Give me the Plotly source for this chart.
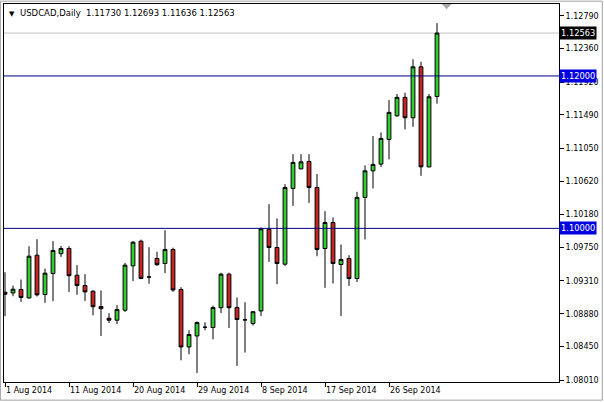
import pandas as pd
import plotly.graph_objects as go

## Data
# ======================================
# trading days incl. the Sunday bars of the broker, Saturdays left out
dagen = [d for d in pd.date_range('2014-08-01', '2014-10-03') if d.weekday() != 5]
datums = [d.strftime('%Y-%m-%d') for d in dagen]

open_ = [
    1.09162, 1.09153, 1.09198, 1.09087, 1.09648, 1.09132, 1.09408, 1.09668, 1.09736, 1.09385,
    1.09250, 1.09175, 1.08974, 1.08821, 1.08795, 1.08926, 1.09508, 1.09832, 1.09363, 1.09605,
    1.09539, 1.09723, 1.09198, 1.08444, 1.08588, 1.08703, 1.08699, 1.08959, 1.09399, 1.08961,
    1.08800, 1.08751, 1.08917, 1.09989, 1.09749, 1.09530, 1.10524, 1.10781, 1.10878, 1.10537,
    1.09736, 1.10077, 1.09526, 1.09605, 1.09342, 1.10406, 1.10755, 1.10843, 1.11167, 1.11477,
    1.11719, 1.11451, 1.12120, 1.10807, 1.11730,
]
high = [
    1.09425, 1.09248, 1.09329, 1.09766, 1.09858, 1.09473, 1.09832, 1.09769, 1.09766, 1.09517,
    1.09399, 1.09188, 1.09185, 1.08887, 1.08992, 1.09547, 1.09832, 1.09852, 1.09753, 1.09694,
    1.09976, 1.09746, 1.09228, 1.08663, 1.08777, 1.08768, 1.08988, 1.09418, 1.09418, 1.09093,
    1.09031, 1.08917, 1.10012, 1.10318, 1.10130, 1.10580, 1.10974, 1.10974, 1.10974, 1.10712,
    1.10226, 1.10143, 1.09789, 1.09648, 1.10479, 1.10826, 1.11211, 1.11259, 1.11683, 1.11762,
    1.11779, 1.12218, 1.12186, 1.11762, 1.12693,
]
low = [
    1.08847, 1.09110, 1.09035, 1.09080, 1.09106, 1.09022, 1.09044, 1.09626, 1.09166, 1.09129,
    1.09048, 1.08860, 1.08588, 1.08759, 1.08745, 1.08904, 1.09307, 1.09333, 1.09274, 1.09508,
    1.09412, 1.09166, 1.08269, 1.08348, 1.08103, 1.08663, 1.08545, 1.08890, 1.08693, 1.08195,
    1.08370, 1.08725, 1.08851, 1.09560, 1.09267, 1.09508, 1.10295, 1.10773, 1.10335, 1.09635,
    1.09219, 1.09276, 1.08851, 1.09245, 1.09297, 1.09854, 1.10524, 1.10807, 1.10905, 1.11464,
    1.11298, 1.11333, 1.10689, 1.10800, 1.11636,
]
close = [
    1.09136, 1.09202, 1.09093, 1.09635, 1.09127, 1.09412, 1.09710, 1.09736, 1.09379, 1.09250,
    1.09166, 1.08972, 1.08946, 1.08795, 1.08935, 1.09517, 1.09819, 1.09343, 1.09362, 1.09523,
    1.09723, 1.09192, 1.08444, 1.08607, 1.08764, 1.08702, 1.08961, 1.09399, 1.08959, 1.08804,
    1.08799, 1.08906, 1.09993, 1.09749, 1.09539, 1.10537, 1.10865, 1.10873, 1.10537, 1.09723,
    1.10077, 1.09539, 1.09592, 1.09342, 1.10406, 1.10755, 1.10839, 1.11180, 1.11522, 1.11719,
    1.11451, 1.12120, 1.10807, 1.11727, 1.12563,
]

y_tickvals = [1.12790, 1.12360, 1.11920, 1.11490, 1.11050, 1.10620,
              1.10180, 1.09750, 1.09310, 1.08880, 1.08450, 1.08010]
x_tickdatums = ['2014-08-01', '2014-08-11', '2014-08-20', '2014-08-29',
                '2014-09-08', '2014-09-17', '2014-09-26']
x_ticktekst = ['1 Aug 2014', '11 Aug 2014', '20 Aug 2014', '29 Aug 2014',
               '8 Sep 2014', '17 Sep 2014', '26 Sep 2014']

niveaus = [1.12000, 1.10000]
laatste_koers = 1.12563
titel = 'USDCAD,Daily\u00a0\u00a01.11730 1.12693 1.11636 1.12563'

## Stijl
# ======================================
font_fam = 'DejaVu Sans, Verdana, sans-serif'
groen = '#32cd32'
rood = '#cc2222'
blauw = '#000080'

## Figuur
# ======================================
fig = go.Figure()

fig.add_trace(
    go.Candlestick(
        x=datums,
        open=open_,
        high=high,
        low=low,
        close=close,
        increasing=dict(fillcolor=groen, line=dict(color='black', width=1)),
        decreasing=dict(fillcolor=rood, line=dict(color='black', width=1)),
        whiskerwidth=0,
        hoverinfo='none',
        showlegend=False,
    )
)

## Horizontale lijnen
# --------------------------------------
fig.add_shape(type='line', xref='paper', x0=0, x1=1, y0=laatste_koers, y1=laatste_koers,
              line=dict(color='#c0c0c0', width=1), layer='below')
for niveau in niveaus:
    fig.add_shape(type='line', xref='paper', x0=0, x1=1, y0=niveau, y1=niveau,
                  line=dict(color=blauw, width=1), layer='above')

## Prijslabels rechts
# --------------------------------------
labels = [(laatste_koers, 'black')] + [(n, '#0000e0') for n in niveaus]
for waarde, kleur in labels:
    fig.add_annotation(
        xref='paper', x=1, xanchor='left', xshift=0,
        y=waarde, yanchor='middle',
        text=f'{waarde:.5f}', showarrow=False,
        bgcolor=kleur, borderpad=1,
        font=dict(family=font_fam, size=8.3, color='white'),
    )

## Titel linksboven
# --------------------------------------
fig.add_annotation(
    xref='paper', yref='paper', x=0, y=1, xanchor='left', yanchor='top',
    xshift=3, yshift=-4, text='\u25bc', showarrow=False,
    font=dict(family=font_fam, size=7, color='black'),
)
fig.add_annotation(
    xref='paper', yref='paper', x=0, y=1, xanchor='left', yanchor='top',
    xshift=14, yshift=-2, text=titel, showarrow=False,
    font=dict(family=font_fam, size=8.5, color='black'),
)

## Grijs driehoekje bovenaan (chart shift)
# --------------------------------------
fig.add_shape(type='path', xref='x', yref='paper',
              path='M 54.6,1 L 55.8,1 L 55.2,0.986 Z',
              fillcolor='#a8a8a8', line=dict(color='#a8a8a8', width=0))

## Venster rand
# --------------------------------------
fig.add_shape(type='rect', xref='paper', yref='paper', x0=-0.0065, x1=1.078, y0=-0.048, y1=1.0075,
              line=dict(color='#a0a0a0', width=1), layer='below')

fig.update_layout(
    width=604,
    height=402,
    margin=dict(l=4, r=45, t=4, b=20),
    paper_bgcolor='white',
    plot_bgcolor='white',
    boxgap=0.32,
    xaxis=dict(
        type='category',
        range=[-0.125, 69.25],
        rangeslider=dict(visible=False),
        showgrid=False,
        zeroline=False,
        showline=True, mirror=True, linecolor='black', linewidth=1,
        ticks='outside', ticklen=4, tickcolor='black',
        tickvals=x_tickdatums,
        ticktext=x_ticktekst,
        ticklabelposition='outside right',
        tickfont=dict(family=font_fam, size=8, color='black'),
    ),
    yaxis=dict(
        side='right',
        range=[1.07984, 1.12944],
        showgrid=False,
        zeroline=False,
        showline=True, mirror=True, linecolor='black', linewidth=1,
        ticks='outside', ticklen=4, tickcolor='black',
        tickvals=y_tickvals,
        ticktext=[f'{v:.5f}' for v in y_tickvals],
        tickfont=dict(family=font_fam, size=8, color='black'),
    ),
)

# body-marge van de pagina weghalen zodat de figuur op (0,0) staat
fig.write_html('out.html', config={'displayModeBar': False},
               post_script="document.body.style.margin='0';")
